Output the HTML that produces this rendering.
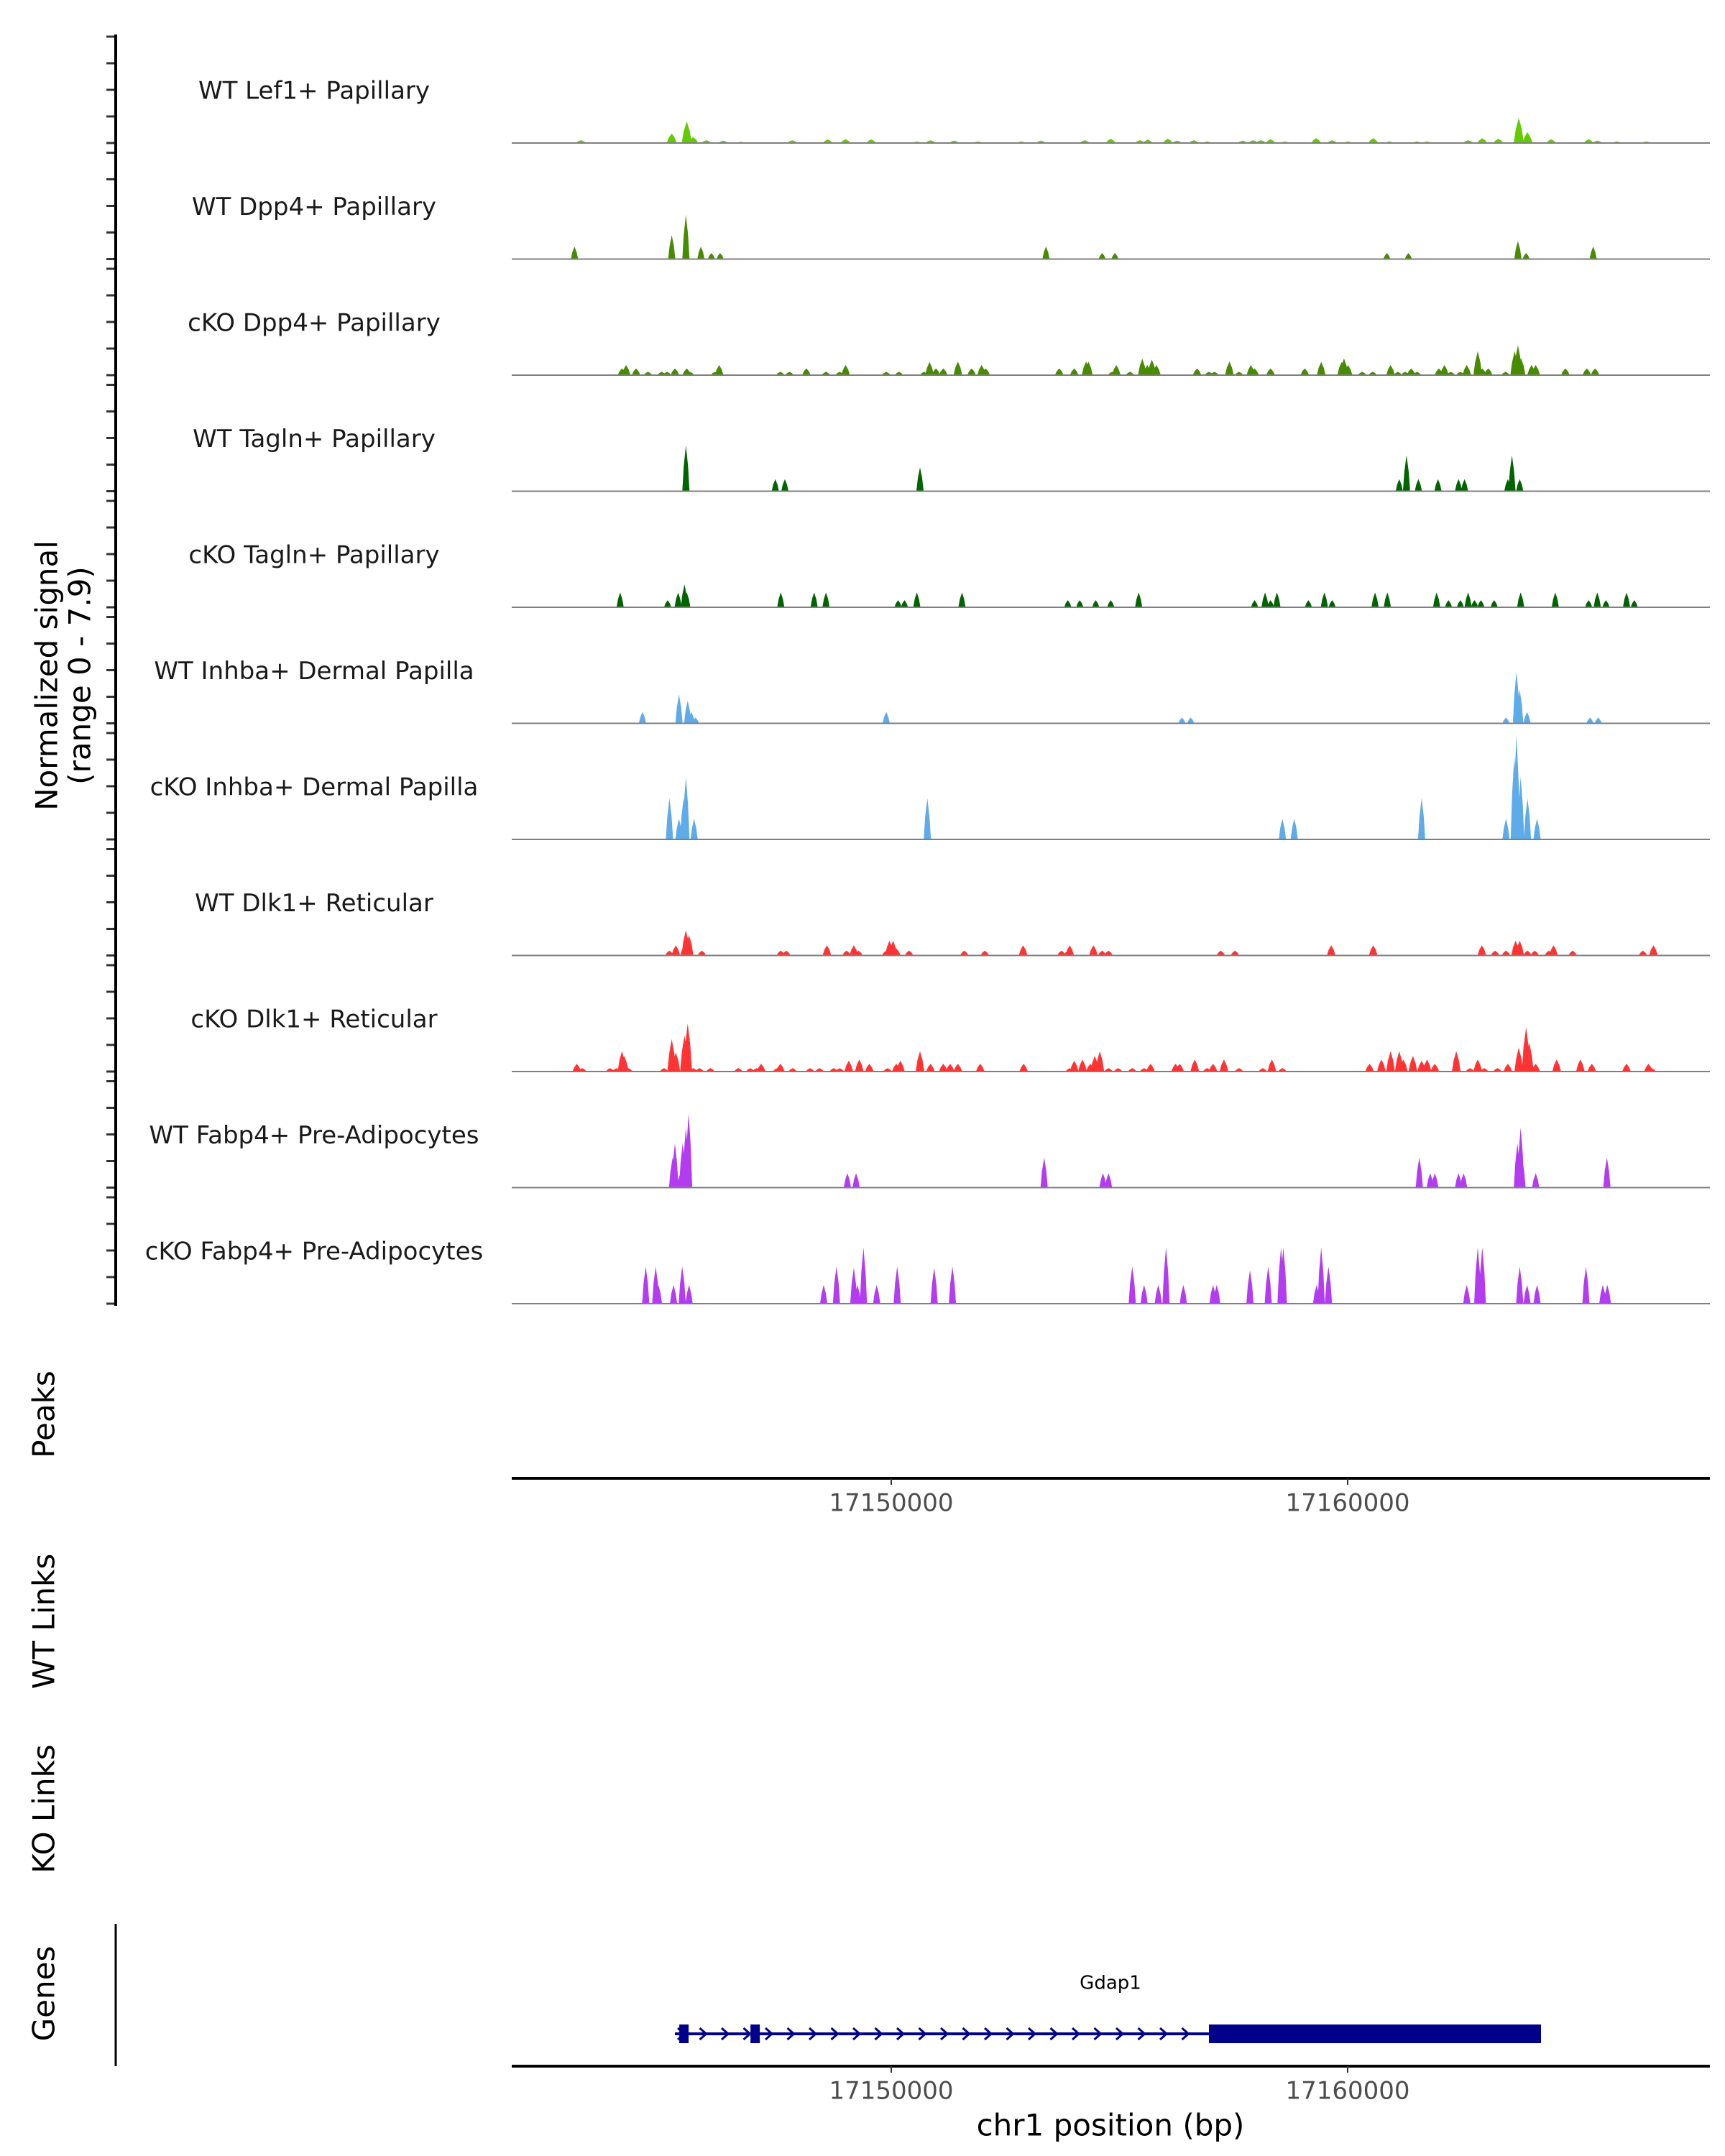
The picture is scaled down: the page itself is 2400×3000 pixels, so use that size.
<!DOCTYPE html>
<html><head><meta charset="utf-8"><style>
html,body{margin:0;padding:0;background:#fff;}
svg{display:block;font-family:"DejaVu Sans","Liberation Sans",sans-serif;}
</style></head><body>
<svg id="chart" width="2400" height="3000" viewBox="0 0 2400 3000" xmlns="http://www.w3.org/2000/svg">
<g id="tracks"></g>
<g id="axes"></g>
</svg>
<script>
// ---- data (positions in kb from region start 17141500 bp; heights in normalized signal, range 0-7.9) ----
const regionStart = 17141500;
const trackNames = ["WT Lef1+ Papillary","WT Dpp4+ Papillary","cKO Dpp4+ Papillary","WT Tagln+ Papillary","cKO Tagln+ Papillary","WT Inhba+ Dermal Papilla","cKO Inhba+ Dermal Papilla","WT Dlk1+ Reticular","cKO Dlk1+ Reticular","WT Fabp4+ Pre-Adipocytes","cKO Fabp4+ Pre-Adipocytes"];
const xTicks = [17150000, 17160000];
const xTickLabels = ["17150000","17160000"];

const posLef1 = [1.70,3.69,4.02,4.16,4.45,4.82,5.20,6.33,7.11,7.50,8.06,9.06,9.36,9.88,10.40,11.35,11.78,12.74,13.31,13.95,14.12,14.56,14.76,15.13,15.42,16.20,16.43,16.60,16.81,17.12,17.81,18.16,18.51,19.06,19.41,20.02,20.24,21.14,21.45,21.80,22.25,22.44,22.96,23.78,23.97,24.40,25.04];
const hLef1 = [0.21,0.71,1.60,0.45,0.21,0.18,0.09,0.21,0.27,0.28,0.27,0.11,0.21,0.18,0.11,0.11,0.18,0.21,0.32,0.21,0.25,0.32,0.18,0.21,0.11,0.18,0.21,0.21,0.28,0.11,0.36,0.21,0.11,0.36,0.11,0.11,0.11,0.21,0.36,0.32,1.87,0.80,0.28,0.28,0.18,0.11,0.11];

const posWtDpp4 = [1.56,3.69,4.00,4.33,4.56,4.75,11.89,13.12,13.40,19.36,19.83,22.23,22.41,23.88];
const hWtDpp4 = [0.93,1.78,3.29,0.93,0.45,0.45,0.93,0.45,0.45,0.45,0.45,1.34,0.45,0.93];

const posKoDpp4 = [2.60,2.69,2.91,3.17,3.47,3.59,3.76,4.02,4.09,4.64,4.73,6.07,6.27,6.64,7.07,7.37,7.50,8.39,8.67,9.22,9.34,9.48,9.64,9.96,10.26,10.48,10.57,12.18,12.51,12.77,12.82,13.34,13.43,13.73,14.00,14.11,14.21,14.31,15.20,15.46,15.58,15.91,16.12,16.38,16.46,16.81,17.56,17.92,18.37,18.42,18.51,18.82,19.05,19.44,19.60,19.76,19.89,20.02,20.50,20.62,20.76,20.97,21.11,21.35,21.45,21.58,21.96,22.16,22.23,22.30,22.53,22.62,23.27,23.74,23.92];
const hKoDpp4 = [0.50,0.75,0.50,0.25,0.25,0.25,0.50,0.50,0.25,0.25,0.75,0.25,0.25,0.50,0.25,0.25,0.75,0.25,0.25,0.25,0.98,0.50,0.50,1.01,0.50,0.75,0.50,0.50,0.50,1.01,1.01,0.25,0.75,0.25,1.21,0.75,1.16,0.75,0.50,0.25,0.25,1.01,0.25,0.75,0.50,0.50,0.50,0.98,0.98,1.25,0.75,0.25,0.25,0.75,0.25,0.25,0.50,0.25,0.50,0.75,0.25,0.25,0.75,1.78,0.50,0.50,0.25,1.78,2.23,1.25,0.75,0.75,0.50,0.50,0.50];

const posWtTagln = [4.00,5.96,6.17,9.13,19.63,19.79,20.05,20.48,20.93,21.06,22.01,22.10,22.27];
const hWtTagln = [3.40,0.89,0.89,1.78,0.89,2.67,0.89,0.89,0.89,0.89,0.89,2.67,0.89];

const posKoTagln = [2.56,3.60,3.83,3.97,4.02,6.08,6.81,7.07,8.65,8.79,9.06,10.05,12.37,12.63,12.98,13.31,13.92,16.46,16.69,16.81,16.95,17.64,17.99,18.16,19.10,19.37,20.45,20.71,20.97,21.14,21.28,21.42,21.71,22.29,23.05,23.78,23.97,24.16,24.61,24.78];
const hKoTagln = [1.10,0.53,1.10,1.69,1.10,1.10,1.10,1.10,0.53,0.53,1.10,1.10,0.53,0.53,0.53,0.53,1.10,0.53,1.10,0.53,1.10,0.53,1.10,0.53,1.10,1.10,1.10,0.53,0.53,1.10,0.53,0.53,0.53,1.10,1.10,0.53,1.10,0.53,1.10,0.53];

const posWtInhba = [3.05,3.85,4.04,4.12,4.21,8.39,14.87,15.06,21.97,22.20,22.27,22.43,23.81,23.99];
const hWtInhba = [0.85,2.14,1.69,0.85,0.43,0.85,0.43,0.43,0.43,3.83,2.49,0.85,0.43,0.43];

const posKoInhba = [3.64,3.85,3.95,4.00,4.18,9.29,17.07,17.33,20.12,21.97,22.15,22.20,22.29,22.44,22.65];
const hKoInhba = [3.06,1.53,3.06,4.63,1.53,3.06,1.53,1.53,3.06,1.53,6.14,7.74,4.63,3.06,1.53];

const posWtDlk1 = [3.64,3.78,3.97,4.00,4.07,4.35,6.08,6.20,7.09,7.52,7.68,7.78,8.39,8.46,8.54,8.61,8.89,10.10,10.55,11.39,12.23,12.37,12.41,12.93,13.12,13.26,15.72,16.03,18.14,19.06,21.44,21.73,21.97,22.18,22.27,22.44,22.60,22.91,23.01,23.43,24.97,25.20];
const hWtDlk1 = [0.36,0.75,0.75,1.87,1.51,0.36,0.36,0.36,0.75,0.36,0.75,0.36,0.36,1.10,1.10,0.53,0.36,0.36,0.36,0.75,0.36,0.36,0.75,0.75,0.36,0.36,0.36,0.36,0.75,0.75,0.75,0.36,0.36,1.10,1.10,0.36,0.36,0.36,0.75,0.36,0.36,0.75];

const posKoDlk1 = [1.61,1.73,2.34,2.48,2.60,2.65,2.74,3.52,3.69,3.78,3.97,4.04,4.16,4.30,4.54,5.15,5.41,5.55,5.65,6.00,6.07,6.34,6.72,6.93,7.24,7.37,7.57,7.80,8.02,8.42,8.61,8.70,9.13,9.36,9.64,9.79,9.96,10.45,11.40,12.41,12.51,12.69,12.86,12.96,13.07,13.26,13.47,13.78,14.04,14.18,14.73,14.82,15.15,15.42,15.55,15.79,16.12,16.64,16.84,17.07,18.98,19.24,19.44,19.63,19.72,19.93,20.12,20.24,20.41,20.88,21.18,21.35,21.49,21.78,22.01,22.25,22.41,22.48,22.62,23.08,23.60,23.85,24.61,25.09,25.16];
const hKoDlk1 = [0.57,0.25,0.25,0.25,1.51,1.16,0.25,0.25,2.40,1.42,2.67,3.56,0.25,0.25,0.25,0.25,0.25,0.25,0.57,0.25,0.57,0.25,0.25,0.25,0.25,0.25,0.80,0.89,0.57,0.25,0.57,0.80,1.51,0.57,0.57,0.57,0.57,0.57,0.57,0.25,0.80,0.89,0.57,1.16,1.51,0.25,0.25,0.25,0.25,0.57,0.57,0.57,0.89,0.25,0.57,0.89,0.25,0.25,0.89,0.25,0.57,0.89,1.51,1.51,0.89,1.16,0.80,0.89,0.57,1.51,0.25,0.89,0.25,0.25,0.57,1.78,3.29,2.14,0.57,0.89,0.89,0.57,0.57,0.57,0.25];

const posWtFabp4 = [3.71,3.76,3.88,3.93,4.00,4.06,7.54,7.73,11.85,13.14,13.26,20.07,20.31,20.41,20.93,21.04,22.22,22.29,22.32,22.62,24.18];
const hWtFabp4 = [2.23,3.29,1.07,3.29,4.45,5.52,1.07,1.07,2.23,1.07,1.07,2.23,1.07,1.07,1.07,1.07,3.29,4.45,2.23,1.07,2.23];

const posKoFabp4 = [3.12,3.34,3.40,3.73,3.92,4.07,7.02,7.30,7.68,7.76,7.89,8.18,8.63,9.44,9.84,13.78,14.04,14.35,14.52,14.90,15.55,15.63,16.36,16.76,17.04,17.09,17.82,17.92,18.08,21.11,21.35,21.45,22.27,22.43,22.65,23.72,24.09,24.19];
const hKoFabp4 = [2.76,2.76,1.39,1.39,2.76,1.39,1.39,2.76,2.67,1.39,4.18,1.39,2.76,2.67,2.76,2.76,1.39,1.39,4.18,1.39,1.39,1.39,2.49,2.76,4.18,4.18,1.39,4.18,2.76,1.39,4.18,4.18,2.76,1.39,1.39,2.76,1.39,1.39];

const geneStart = 17145260, geneEnd = 17164236;
const cdsStart = 17156961;
const exonStarts = [17145450, 17147010];

// ---- scales ----
const yMax = 7.9;
function xScale(bp){ return 1240 + (bp - 17150000) * 0.0635; }
function xKb(kb){ return xScale(regionStart + kb*1000); }
const trackH = 148;
function baseY(i){ return 199 + i*161.5; }
function yScale(v, i){ return baseY(i) - (Math.min(v,yMax)/yMax)*trackH; }

const NS = "http://www.w3.org/2000/svg";
function mk(tag, attrs, parent){
  const e = document.createElementNS(NS, tag);
  for (const k in attrs) e.setAttribute(k, attrs[k]);
  parent.appendChild(e); return e;
}
const tracksG = document.getElementById('tracks');
const axesG = document.getElementById('axes');

const trackPos = [posLef1,posWtDpp4,posKoDpp4,posWtTagln,posKoTagln,posWtInhba,posKoInhba,posWtDlk1,posKoDlk1,posWtFabp4,posKoFabp4];
const trackH_ = [hLef1,hWtDpp4,hKoDpp4,hWtTagln,hKoTagln,hWtInhba,hKoInhba,hWtDlk1,hKoDlk1,hWtFabp4,hKoFabp4];
const colors = ["#62cc00","#478c00","#478c00","#006400","#006400","#5eabea","#5eabea","#ff3333","#ff3333","#b33cf0","#b33cf0"];
const widths = [7,5,6,5,5,5,5,6,6,5,5];

for (let i=0;i<trackNames.length;i++){
  const g = mk('g',{},tracksG);
  
  
  const lbl = mk('text',{x:437,y:baseY(i)-71,'font-size':34,'text-anchor':'middle','dominant-baseline':'middle',fill:'#1a1a1a'},g);
  
  
  lbl.textContent = trackNames[i];
  const b = baseY(i), w = widths[i];
  let d = '';
  trackPos[i].forEach((p,j)=>{
    const x = xKb(p), yt = yScale(trackH_[i][j], i), ym = b - (b-yt)*0.55;
    d += `M${(x-w).toFixed(1)},${b}L${(x-w*0.6).toFixed(1)},${ym.toFixed(1)}L${x.toFixed(1)},${yt.toFixed(1)}L${(x+w*0.6).toFixed(1)},${ym.toFixed(1)}L${(x+w).toFixed(1)},${b}Z`;
  });
  const path = mk('path',{d:d,fill:colors[i]},g);
  
  
  const bl = mk('line',{x1:712,x2:2379,y1:b,y2:b,stroke:'#7f7f7f','stroke-width':2},g);
  
  
  for (let k=0;k<5;k++){
    const ty = b - trackH + k*37;
    const t = mk('line',{x1:148,x2:161,y1:ty,y2:ty,stroke:'#333','stroke-width':3},axesG);
    
    
  }
}
// left y axis
const ya = mk('line',{x1:161,x2:161,y1:48,y2:1817,stroke:'#000','stroke-width':4},axesG);


function vtext(txt, x, y, size, name){
  const t = mk('text',{x:0,y:0,'font-size':size,'text-anchor':'middle','dominant-baseline':'middle',fill:'#000',transform:`translate(${x},${y}) rotate(-90)`},axesG);
  
  
  t.textContent = txt;
}
vtext("Normalized signal",68,940,42,"y-axis-title");
vtext("(range 0 - 7.9)",114,940,42,"y-axis-range");
vtext("Peaks",64,1968,42,"peaks-label");
vtext("WT Links",64,2256,42,"wt-links-label");
vtext("KO Links",64,2517,42,"ko-links-label");
vtext("Genes",64,2774,42,"genes-label");

function xAxis(y, name){
  const l = mk('line',{x1:712,x2:2379,y1:y,y2:y,stroke:'#000','stroke-width':4},axesG);
  
  
  xTicks.forEach((v,j)=>{
    const x = xScale(v);
    const tk = mk('line',{x1:x,x2:x,y1:y,y2:y+9,stroke:'#333','stroke-width':2},axesG);
    
    
    const tl = mk('text',{x:x,y:y+36,'font-size':34,'text-anchor':'middle','dominant-baseline':'middle',fill:'#4d4d4d'},axesG);
    
    
    tl.textContent = xTickLabels[j];
  });
}
xAxis(2057,'peaks-x-axis');
xAxis(2875,'genes-x-axis');
const xt = mk('text',{x:1545,y:2960,'font-size':42,'text-anchor':'middle','dominant-baseline':'middle',fill:'#000'},axesG);


xt.textContent = "chr1 position (bp)";
const ga = mk('line',{x1:161,x2:161,y1:2677,y2:2875,stroke:'#000','stroke-width':3},axesG);



// gene model
const gg = mk('g',{},axesG);


const gy = 2830, gc = '#00008b';
mk('line',{x1:xScale(geneStart),x2:xScale(geneEnd),y1:gy,y2:gy,stroke:gc,'stroke-width':4},gg);
for (let x = xScale(geneStart)+4; x < xScale(cdsStart)-8; x += 30.5){
  mk('path',{d:`M${x},${gy-8}L${x+9},${gy}L${x},${gy+8}`,fill:'none',stroke:gc,'stroke-width':3},gg);
}
exonStarts.forEach(s=>{ mk('rect',{x:xScale(s)-6,y:gy-13,width:13,height:26,fill:gc},gg); });
mk('rect',{x:xScale(cdsStart),y:gy-13,width:xScale(geneEnd)-xScale(cdsStart),height:26,fill:gc},gg);
const gl = mk('text',{x:1545,y:2760,'font-size':26,'text-anchor':'middle','dominant-baseline':'middle',fill:'#000'},gg);


gl.textContent = "Gdap1";
</script>
</body></html>
